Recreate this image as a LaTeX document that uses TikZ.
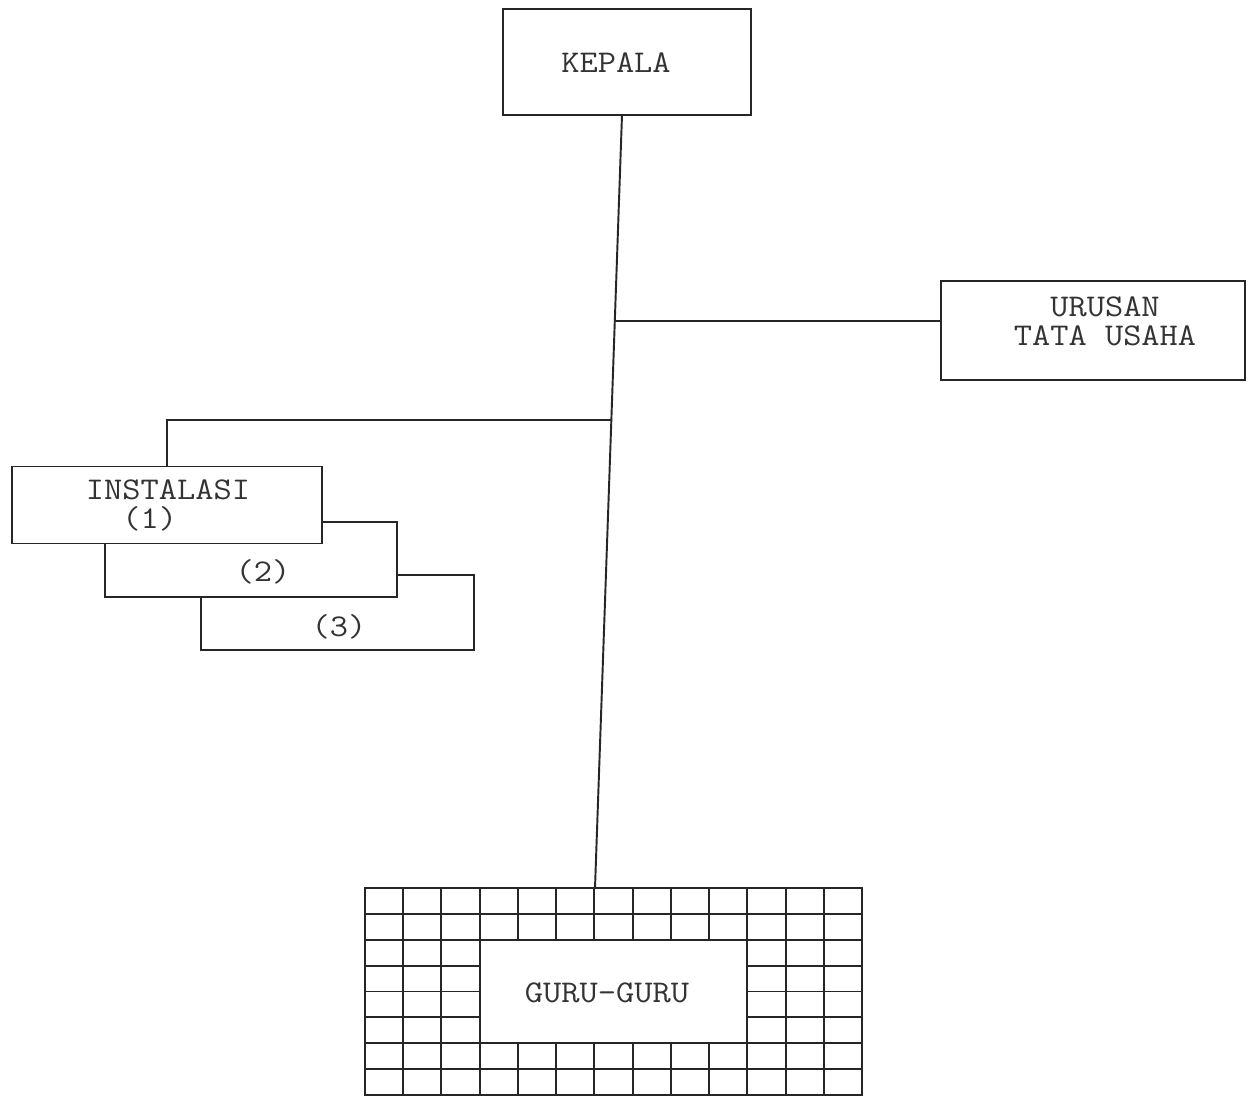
\documentclass[tikz,border=0pt]{standalone}
\usepackage{fontspec}
\newfontfamily\orgmono[FakeStretch=1.12]{Latin Modern Mono}
\usetikzlibrary{calc}
\begin{document}
\begin{tikzpicture}[x=0.02cm,y=-0.02cm,line width=1.1pt,
  box/.style={draw=black!85,fill=white,inner sep=0pt,rectangle},
  lbl/.style={inner sep=0pt,text=black!80,font=\fontsize{18}{16.5}\orgmono,align=center},
  conn/.style={draw=black!85,line width=1.1pt}]
\useasboundingbox (0,0) rectangle (1258,1107);
\fill[white] (0,0) rectangle (1258,1107);
% KEPALA
\node[box,minimum width=4.96cm,minimum height=2.12cm] (kepala) at (627,62) {};
\node[lbl] (tkepala) at (616,63) {KEPALA};
% URUSAN TATA USAHA
\node[box,minimum width=6.08cm,minimum height=1.98cm] (tu) at (1093,330.5) {};
\node[lbl] (ttu) at (1105,321) {URUSAN\\TATA USAHA};
% trunk
\coordinate (trTop) at (622,115);
\coordinate (trBot) at (595,888);
\coordinate (jtu) at ($(trTop)!0.2665!(trBot)$);
\coordinate (jin) at ($(trTop)!0.3946!(trBot)$);
% INSTALASI boxes
\node[box,minimum width=5.46cm,minimum height=1.5cm] (inst3) at (337.5,612.5) {};
\node[box,minimum width=5.84cm,minimum height=1.5cm] (inst2) at (251,559.5) {};
\node[box,minimum width=6.2cm,minimum height=1.54cm] (inst1) at (167,505) {};
\node[lbl] (tinst) at (168,505) {INSTALASI\\(1)\phantom{--}};
\node[lbl] (ttwo) at (263,572) {(2)};
\node[lbl] (tthree) at (339,627) {(3)};
% GURU grid
\node[box,minimum width=9.94cm,minimum height=4.14cm] (grid) at (613.5,991.5) {};
\foreach \i in {1,...,12} \draw[draw=black!85] ({365+\i*38.23},888) -- ({365+\i*38.23},1095);
\foreach \j in {1,...,7} \draw[draw=black!85] (365,{888+\j*25.875}) -- (862,{888+\j*25.875});
\node[box,minimum width=5.352cm,minimum height=2.07cm] (guru) at (613.5,991.5) {};
\node[lbl] (tguru) at (607,993) {GURU-GURU};
% connectors
\draw[conn] (trTop) -- (trBot);
\draw[conn] (jtu) -- (jtu -| tu.west);
\draw[conn] (jin) -| (inst1.north);
\end{tikzpicture}
\end{document}
